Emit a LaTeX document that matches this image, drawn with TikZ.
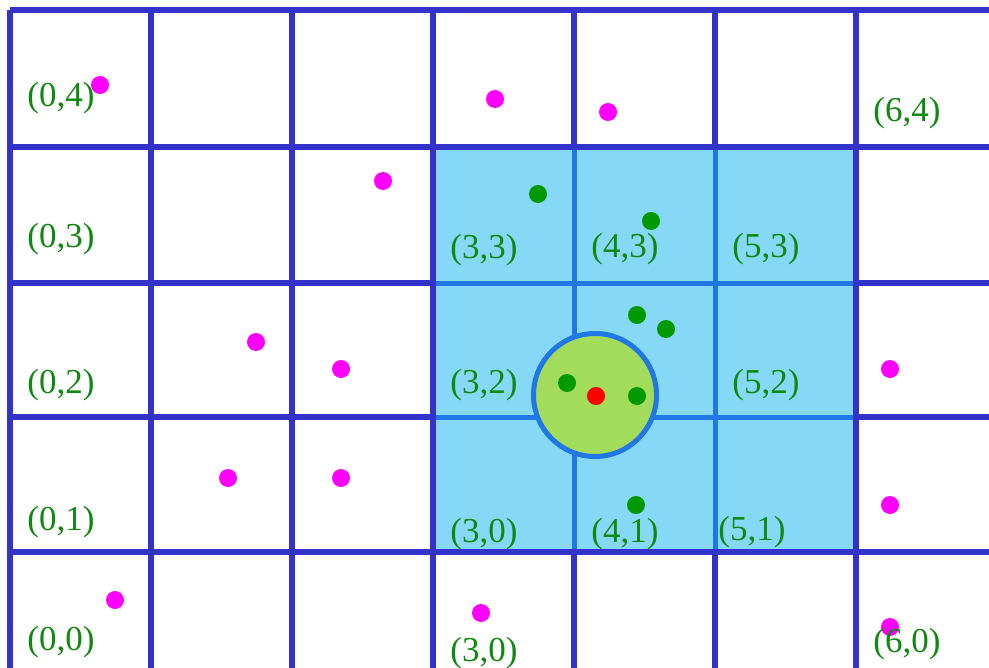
\documentclass[tikz,border=0pt]{standalone}
\usepackage{fontspec}
\setmainfont{Liberation Serif}
\definecolor{gridblue}{HTML}{3333CC}
\definecolor{innerblue}{HTML}{2277E6}
\definecolor{shadecol}{HTML}{86D8F7}
\definecolor{circfill}{HTML}{A2DC5A}
\definecolor{lblgreen}{HTML}{118811}
\definecolor{dotgreen}{HTML}{009900}
\definecolor{dotmag}{HTML}{FF00FF}
\definecolor{dotred}{HTML}{FF0000}
\begin{document}
\begin{tikzpicture}[x=0.5pt,y=-0.5pt,
  gridline/.style={draw=gridblue, line width=3pt},
  innerline/.style={draw=innerblue, line width=2.5pt},
  lbl/.style={anchor=base west, inner sep=0pt, text=lblgreen, font=\fontsize{17.5}{20}\selectfont},
  dotbase/.style={circle, inner sep=0pt, minimum size=9pt},
  mdot/.style={dotbase, fill=dotmag},
  gdot/.style={dotbase, fill=dotgreen},
  rdot/.style={dotbase, fill=dotred}]
\useasboundingbox (0,0) rectangle (989,668);
\fill[white] (0,0) rectangle (989,668);
% full dark grid
\foreach \xx in {10,151,292,433,574,715,856} \draw[gridline] (\xx,10) -- (\xx,668);
\foreach \yy in {10,147,283,417,552} \draw[gridline] (10,\yy) -- (989,\yy);
% shaded region
\fill[shadecol] (433,147) rectangle (856,552);
\foreach \xx in {574,715} \draw[innerline] (\xx,147) -- (\xx,552);
\foreach \yy in {283,417} \draw[innerline] (433,\yy) -- (856,\yy);
\draw[gridline] (433,147) rectangle (856,552);
\draw[gridline] (433,552) -- (433,668);
% circle
\node[circle, draw=innerblue, line width=2.5pt, fill=circfill, minimum size=61.5pt, inner sep=0pt] (range) at (595,395) {};
% labels
\node[lbl] (l04) at (27,107) {(0,4)};
\node[lbl] (l64) at (873,122) {(6,4)};
\node[lbl] (l03) at (27,247) {(0,3)};
\node[lbl] (l33) at (450,258) {(3,3)};
\node[lbl] (l43) at (591,257) {(4,3)};
\node[lbl] (l53) at (732,257) {(5,3)};
\node[lbl] (l02) at (27,393) {(0,2)};
\node[lbl] (l32) at (450,393) {(3,2)};
\node[lbl] (l52) at (732,393) {(5,2)};
\node[lbl] (l01) at (27,530) {(0,1)};
\node[lbl] (l30a) at (450,542) {(3,0)};
\node[lbl] (l41) at (591,542) {(4,1)};
\node[lbl] (l51) at (718,540) {(5,1)};
\node[lbl] (l00) at (27,650) {(0,0)};
\node[lbl] (l30b) at (450,661) {(3,0)};
% magenta points
\node[mdot] (m1) at (100,85) {};
\node[mdot] (m2) at (495,99) {};
\node[mdot] (m3) at (608,112) {};
\node[mdot] (m4) at (383,181) {};
\node[mdot] (m5) at (256,342) {};
\node[mdot] (m6) at (341,369) {};
\node[mdot] (m7) at (228,478) {};
\node[mdot] (m8) at (341,478) {};
\node[mdot] (m9) at (115,600) {};
\node[mdot] (m10) at (481,613) {};
\node[mdot] (m11) at (890,369) {};
\node[mdot] (m12) at (890,505) {};
\node[mdot] (m13) at (890,627) {};
\node[lbl] (l60) at (873,652) {(6,0)};
% green points
\node[gdot] (g1) at (538,194) {};
\node[gdot] (g2) at (651,221) {};
\node[gdot] (g3) at (637,315) {};
\node[gdot] (g4) at (666,329) {};
\node[gdot] (g5) at (567,383) {};
\node[gdot] (g6) at (637,396) {};
\node[gdot] (g7) at (636,505) {};
% query point
\node[rdot] (q) at (596,396) {};
\end{tikzpicture}
\end{document}
